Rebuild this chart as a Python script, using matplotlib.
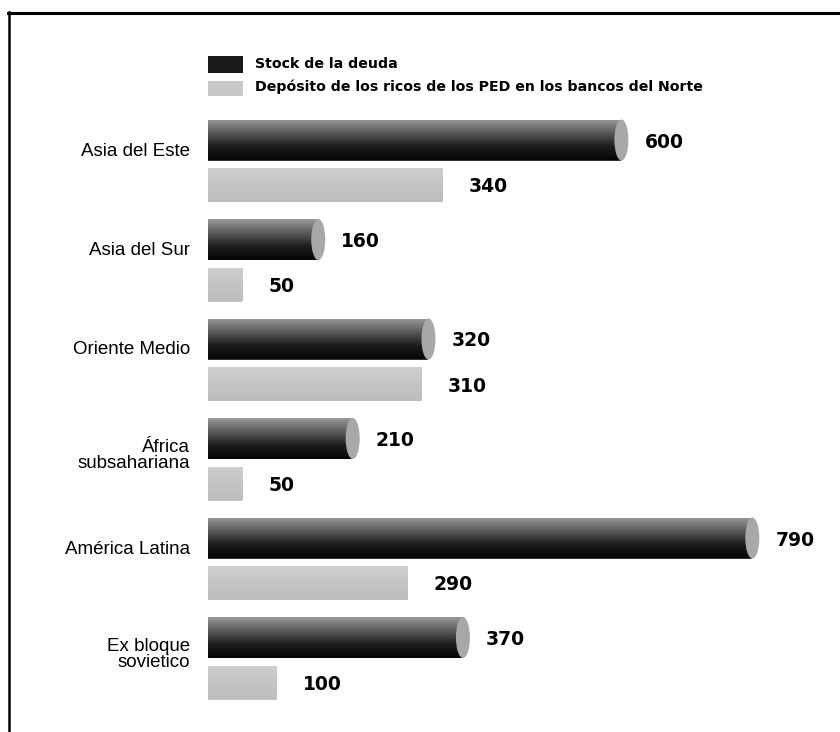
import numpy as np
import matplotlib
matplotlib.use("Agg")
import matplotlib.pyplot as plt
from matplotlib.patches import Ellipse, Rectangle
from matplotlib.lines import Line2D

categories = ["Asia del Este", "Asia del Sur", "Oriente Medio",
              "África\nsubsahariana", "América Latina", "Ex bloque\nsovietico"]
stock_deuda = [600, 160, 320, 210, 790, 370]
deposito_ricos = [340, 50, 310, 50, 290, 100]
legend_labels = ["Stock de la deuda",
                 "Depósito de los ricos de los PED en los bancos del Norte"]

W, H = 840, 732
fig = plt.figure(figsize=(W / 100, H / 100), dpi=100)
fig.patch.set_facecolor("white")

left_px = 208
px_per_unit = 0.689
ax = fig.add_axes([left_px / W, 0, (W - left_px) / W, 1])
ax.set_xlim(0, (W - left_px) / px_per_unit)
ax.set_ylim(H, 0)
ax.axis("off")

group_step = 99.5
first_dark = 140
pair_gap = 45
h_dark = 41
h_light = 34
cap_w = 14 / px_per_unit

dark_grad = np.linspace(0, 1, 64).reshape(-1, 1)
dark_cmap = matplotlib.colors.LinearSegmentedColormap.from_list(
    "dk", ["#9a9a9a", "#5a5a5a", "#1e1e1e", "#050505"])
light_cmap = matplotlib.colors.LinearSegmentedColormap.from_list(
    "lt", ["#cfcfcf", "#c4c4c4", "#bdbdbd"])

for i, (cat, d, l) in enumerate(zip(categories, stock_deuda, deposito_ricos)):
    yd = first_dark + group_step * i
    yl = yd + pair_gap
    # dark bar
    bars = ax.barh([yd], [d], height=h_dark, color="#333333", edgecolor="none")
    im = ax.imshow(dark_grad, extent=(0, d, yd + h_dark / 2, yd - h_dark / 2),
                   cmap=dark_cmap, aspect="auto", origin="upper",
                   interpolation="bilinear", zorder=2)
    im.set_clip_path(bars.patches[0])
    ax.add_patch(Ellipse((d, yd), cap_w, h_dark, facecolor="#a8a8a8",
                         edgecolor="none", zorder=3))
    ax.text(d + 23 / px_per_unit, yd + 2, f"{d}", fontsize=13.5,
            fontweight="heavy", va="center", ha="left", color="black",
            family="DejaVu Sans")
    # light bar
    lb = ax.barh([yl], [l], height=h_light, color="#c6c6c6", edgecolor="none")
    im2 = ax.imshow(dark_grad, extent=(0, l, yl + h_light / 2, yl - h_light / 2),
                    cmap=light_cmap, aspect="auto", origin="upper",
                    interpolation="bilinear", zorder=2)
    im2.set_clip_path(lb.patches[0])
    ax.text(l + 26 / px_per_unit, yl + 2, f"{l}", fontsize=13.5,
            fontweight="heavy", va="center", ha="left", color="black",
            family="DejaVu Sans")
    # category label
    off = 17 if "\n" in cat else 11
    ax.text(-18 / px_per_unit, yd + off, cat, fontsize=13.5, ha="right",
            va="center", color="black", family="Liberation Sans",
            linespacing=0.95, clip_on=False)

# legend (manual)
fig.patches.append(Rectangle((208 / W, 1 - 73 / H), 35 / W, 17 / H,
                             transform=fig.transFigure, facecolor="#1a1a1a",
                             edgecolor="none"))
fig.patches.append(Rectangle((208 / W, 1 - 96 / H), 35 / W, 15 / H,
                             transform=fig.transFigure, facecolor="#c8c8c8",
                             edgecolor="none"))
fig.text(255 / W, 1 - 64 / H, legend_labels[0], fontsize=10.2, fontweight="bold",
         va="center", ha="left", family="DejaVu Sans")
fig.text(255 / W, 1 - 87 / H, legend_labels[1], fontsize=10.2, fontweight="bold",
         va="center", ha="left", family="DejaVu Sans")

# frame lines (top and left)
fig.add_artist(Line2D([8 / W, 1], [1 - 13 / H, 1 - 13 / H],
                      transform=fig.transFigure, color="black", lw=2.2))
fig.add_artist(Line2D([9 / W, 9 / W], [1 - 12 / H, 0],
                      transform=fig.transFigure, color="black", lw=1.8))

fig.savefig("out.png", dpi=100)
